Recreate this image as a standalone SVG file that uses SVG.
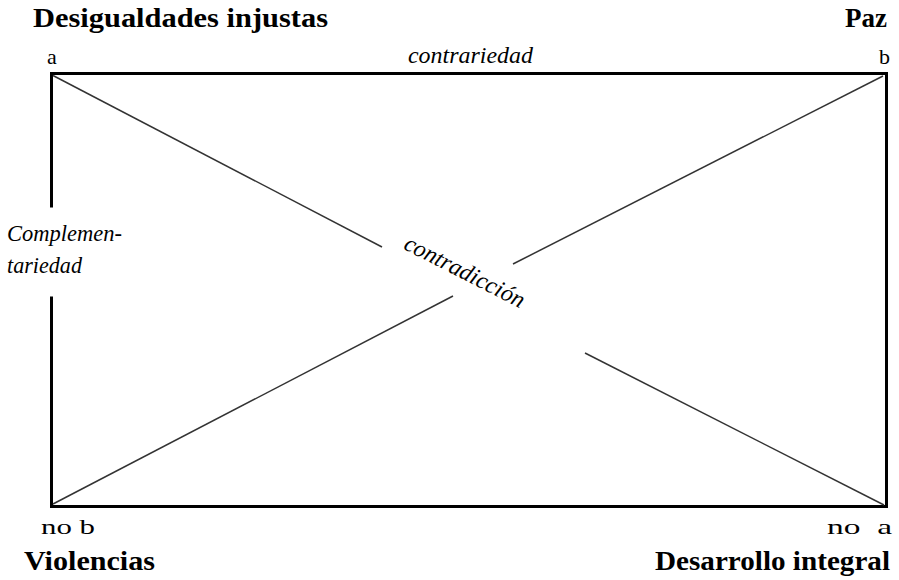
<svg xmlns="http://www.w3.org/2000/svg" width="899" height="580" viewBox="0 0 899 580" font-family="'Liberation Serif', 'DejaVu Serif', serif">
<style>
text{font-family:'Liberation Serif','DejaVu Serif',serif;fill:#000}
.b{font-weight:bold;font-size:27px}
.r{font-size:22px}
.i{font-style:italic;font-size:24px}
.frame{stroke:#000;stroke-width:3;fill:none;stroke-linecap:square}
.diag{stroke:#333;stroke-width:1.5;fill:none}
</style>
<rect width="899" height="580" fill="#fff"/>
<g id="connectors">
<path class="frame" d="M51.5,206 V73.5 H886.5 V506.5 H51.5 V298"/>
<line class="diag" x1="53" y1="75.5" x2="382" y2="247"/>
<line class="diag" x1="585" y1="353" x2="884" y2="505"/>
<line class="diag" x1="53" y1="504" x2="453" y2="296"/>
<line class="diag" x1="513" y1="264" x2="883" y2="76"/>
</g>
<g id="node-a">
<text class="b" x="33" y="27" textLength="295" lengthAdjust="spacingAndGlyphs">Desigualdades injustas</text>
<text class="r" x="47" y="64">a</text>
</g>
<g id="node-b">
<text class="b" x="887" y="27" text-anchor="end">Paz</text>
<text class="r" x="890" y="64" text-anchor="end">b</text>
</g>
<g id="node-nob">
<text class="r" x="41" y="534" textLength="54" lengthAdjust="spacingAndGlyphs">no b</text>
<text class="b" x="24" y="570" textLength="131" lengthAdjust="spacingAndGlyphs">Violencias</text>
</g>
<g id="node-noa">
<text class="r" x="827" y="534" textLength="65" xml:space="preserve" lengthAdjust="spacingAndGlyphs">no  a</text>
<text class="b" x="655" y="570" textLength="235" lengthAdjust="spacingAndGlyphs">Desarrollo integral</text>
</g>
<g id="labels">
<text class="i" x="408" y="63" textLength="125" lengthAdjust="spacingAndGlyphs">contrariedad</text>
<text class="i" x="7" y="241" textLength="115" lengthAdjust="spacingAndGlyphs">Complemen-</text>
<text class="i" x="7" y="273" textLength="75" lengthAdjust="spacingAndGlyphs">tariedad</text>
<text class="i" transform="translate(464,273) rotate(27)" x="0" y="6" text-anchor="middle" textLength="132" lengthAdjust="spacingAndGlyphs">contradicción</text>
</g>
</svg>
